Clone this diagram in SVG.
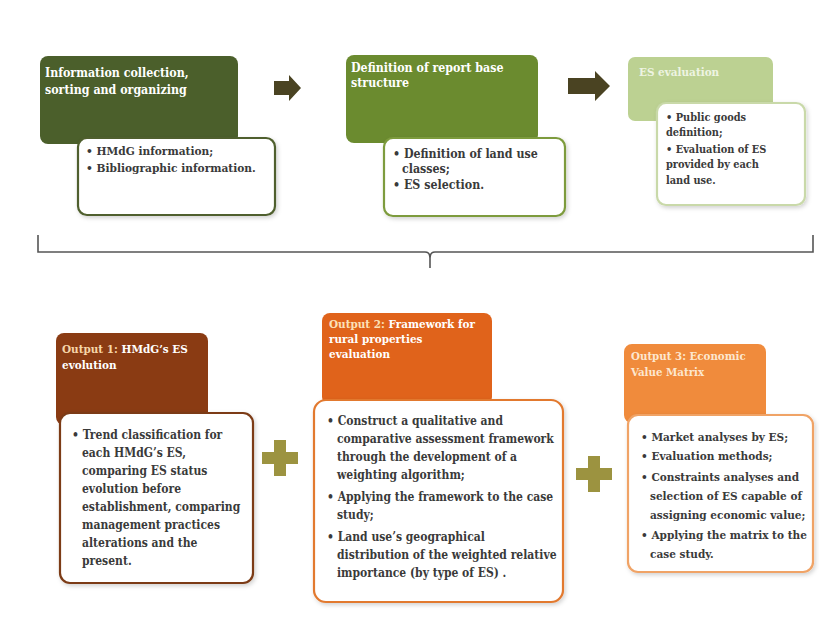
<svg xmlns="http://www.w3.org/2000/svg" width="819" height="618" viewBox="0 0 819 618">
<defs>
<filter id="sh" x="-10%" y="-10%" width="125%" height="125%">
<feDropShadow dx="1.5" dy="2" stdDeviation="2" flood-color="#000000" flood-opacity="0.18"/>
</filter>
</defs>
<style>
.hd{font-family:"DejaVu Serif Condensed","DejaVu Serif",serif;font-stretch:condensed;font-weight:bold;fill:#ffffff}
.tx{font-family:"DejaVu Serif Condensed","DejaVu Serif",serif;font-stretch:condensed;font-weight:bold;fill:#3a3a3a}
.inner{fill:#ffffff;stroke-width:2.2;filter:url(#sh)}
</style>
<rect width="819" height="618" fill="#ffffff"/>
<g id="step1">
<rect x="40" y="56" width="198" height="88" rx="8" fill="#4b5f2b"/>
<rect class="inner" x="78" y="138" width="197" height="77" rx="9" stroke="#4f5f2d"/>
<text class="hd" x="45" y="77" font-size="12.3">Information collection,</text>
<text class="hd" x="45" y="94" font-size="12.3">sorting and organizing</text>
<text class="tx" x="86" y="155" font-size="11.8">• HMdG information;</text>
<text class="tx" x="86" y="172" font-size="11.8">• Bibliographic information.</text>
</g>
<g id="step2">
<rect x="346" y="55" width="192" height="88" rx="8" fill="#6b8b2f"/>
<rect class="inner" x="384" y="138" width="181" height="78" rx="9" stroke="#7d9b3c"/>
<text class="hd" x="351" y="72" font-size="12.3">Definition of report base</text>
<text class="hd" x="351" y="87" font-size="12.3">structure</text>
<text class="tx" x="393" y="158" font-size="12.3">• Definition of land use</text>
<text class="tx" x="402" y="173" font-size="12.3">classes;</text>
<text class="tx" x="393" y="189" font-size="12.3">• ES selection.</text>
</g>
<g id="step3">
<rect x="628" y="57" width="145" height="64" rx="7" fill="#bcd192"/>
<rect class="inner" x="657" y="103" width="148" height="102" rx="9" stroke="#c9d9a9"/>
<text class="hd" x="639" y="76" font-size="11.6" style="fill:#eef4e2">ES evaluation</text>
<text class="tx" x="666" y="121" font-size="10.9">• Public goods</text>
<text class="tx" x="666" y="136" font-size="10.9">definition;</text>
<text class="tx" x="666" y="153" font-size="10.9">• Evaluation of ES</text>
<text class="tx" x="666" y="168" font-size="10.9">provided by each</text>
<text class="tx" x="666" y="184" font-size="10.9">land use.</text>
</g>
<g id="connectors">
<path d="M274 81 H289 V75 L301 88 L289 101 V95 H274 Z" fill="#4a4322"/>
<path d="M568 78 H595 V71 L610 86 L595 101 V94 H568 Z" fill="#4a4322"/>
<path d="M38 235 V252 H425 Q430 252 430 258 V268 M430 258 Q430 252 435 252 H813 V235" fill="none" stroke="#555555" stroke-width="1.6"/>
<path d="M274 440 H286 V452 H298 V464 H286 V476 H274 V464 H262 V452 H274 Z" fill="#9c9340"/>
<path d="M588 456 H600 V468 H612 V480 H600 V492 H588 V480 H576 V468 H588 Z" fill="#9c9340"/>
</g>
<g id="output1">
<rect x="56" y="333" width="152" height="92" rx="8" fill="#8a3b13"/>
<rect class="inner" x="60" y="413" width="193" height="170" rx="10" stroke="#7b3b15"/>
<text class="hd" x="62" y="353" font-size="11.6"><tspan fill="#f6d6a8">Output 1:</tspan> HMdG’s ES</text>
<text class="hd" x="62" y="369" font-size="11.6">evolution</text>
<text class="tx" x="72" y="439" font-size="12">• Trend classification for</text>
<text class="tx" x="82" y="457" font-size="12">each HMdG’s ES,</text>
<text class="tx" x="82" y="475" font-size="12">comparing ES status</text>
<text class="tx" x="82" y="493" font-size="12">evolution before</text>
<text class="tx" x="82" y="511" font-size="12">establishment, comparing</text>
<text class="tx" x="82" y="529" font-size="12">management practices</text>
<text class="tx" x="82" y="547" font-size="12">alterations and the</text>
<text class="tx" x="82" y="565" font-size="12">present.</text>
</g>
<g id="output2">
<rect x="322" y="313" width="170" height="92" rx="8" fill="#e0631b"/>
<rect class="inner" x="314" y="400" width="249" height="202" rx="12" stroke="#e2792f"/>
<text class="hd" x="329" y="328" font-size="11.6"><tspan fill="#fbe0b8">Output 2:</tspan> Framework for</text>
<text class="hd" x="329" y="343" font-size="11.6">rural properties</text>
<text class="hd" x="329" y="358" font-size="11.6">evaluation</text>
<text class="tx" x="327" y="425" font-size="12">• Construct a qualitative and</text>
<text class="tx" x="337" y="443" font-size="12">comparative assessment framework</text>
<text class="tx" x="337" y="461" font-size="12">through the development of a</text>
<text class="tx" x="337" y="479" font-size="12">weighting algorithm;</text>
<text class="tx" x="327" y="501" font-size="12">•  Applying the framework to the case</text>
<text class="tx" x="337" y="519" font-size="12">study;</text>
<text class="tx" x="327" y="541" font-size="12">• Land use’s geographical</text>
<text class="tx" x="337" y="559" font-size="12">distribution of the weighted relative</text>
<text class="tx" x="337" y="577" font-size="12">importance (by type of ES) .</text>
</g>
<g id="output3">
<rect x="624" y="344" width="142" height="79" rx="8" fill="#f08b3c"/>
<rect class="inner" x="628" y="415" width="185" height="157" rx="10" stroke="#f0a366"/>
<text class="hd" x="631" y="360" font-size="11.4" style="fill:#fde7cf">Output 3: Economic</text>
<text class="hd" x="631" y="376" font-size="11.4" style="fill:#fde7cf">Value Matrix</text>
<text class="tx" x="641" y="441" font-size="11.7">• Market analyses by ES;</text>
<text class="tx" x="641" y="460" font-size="11.7">• Evaluation methods;</text>
<text class="tx" x="641" y="481" font-size="11.7">• Constraints analyses and</text>
<text class="tx" x="650" y="500" font-size="11.7">selection of ES capable of</text>
<text class="tx" x="650" y="519" font-size="11.7">assigning economic value;</text>
<text class="tx" x="641" y="539" font-size="11.7">• Applying the matrix to the</text>
<text class="tx" x="650" y="558" font-size="11.7">case study.</text>
</g>
</svg>
